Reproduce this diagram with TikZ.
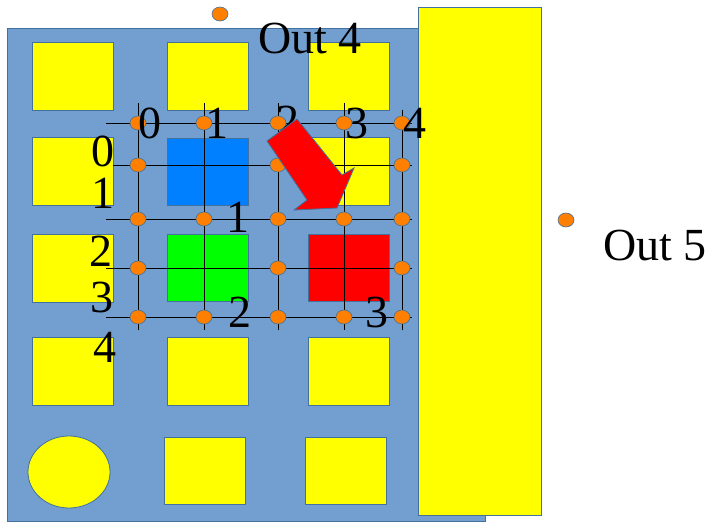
\documentclass[tikz,border=0pt]{standalone}
\usepackage{fontspec}
\setmainfont{Liberation Serif}
\usepackage{tikz}
\usetikzlibrary{shapes.geometric}
\definecolor{BoardBlue}{HTML}{729FCF}
\definecolor{EdgeBlue}{HTML}{41719C}
\definecolor{PadYellow}{HTML}{FFFF00}
\definecolor{ChipBlue}{HTML}{0080FF}
\definecolor{ChipGreen}{HTML}{00FF00}
\definecolor{ChipRed}{HTML}{FF0000}
\definecolor{PinOrange}{HTML}{FF8000}

\begin{document}
\begin{tikzpicture}[x=1pt,y=-1pt,
 every node/.style={font=\fontsize{46}{50}\selectfont,inner sep=0pt},
 pad/.style={draw=EdgeBlue,line width=0.8pt,fill=PadYellow},
 chip/.style={draw=EdgeBlue,line width=0.8pt},
 wire/.style={black,line width=0.9pt},
 pin/.style={ellipse,draw=EdgeBlue,line width=0.6pt,fill=PinOrange,minimum width=16pt,minimum height=14pt}]
\useasboundingbox (0,0) rectangle (714,522);
% board and side bar
\fill[BoardBlue,draw=EdgeBlue,line width=0.8pt] (7,28) rectangle (485,521);
\draw[pad] (418,7) rectangle (541,515);
% pads
\foreach \x in {32,167,308}
 \foreach \y in {42,337} \draw[pad] (\x,\y) rectangle ++(81,68);
\draw[pad] (32,137) rectangle ++(81,68);
\draw[pad] (308,137) rectangle ++(81,68);
\draw[pad] (32,234) rectangle ++(81,68);
\draw[pad] (69,472) ellipse (41 and 36);
\draw[pad] (164,437) rectangle ++(81,67);
\draw[pad] (305,437) rectangle ++(81,67);
% chips
\draw[chip,fill=ChipBlue] (167,138) rectangle ++(81,67);
\draw[chip,fill=ChipGreen] (167,234) rectangle ++(81,67);
\draw[chip,fill=ChipRed] (308,234) rectangle ++(81,67);
% grid
\foreach \x in {138,204,278,344} \draw[wire] (\x,103) -- (\x,330);
\draw[wire] (402,110) -- (402,330);
\foreach \y in {123,219,268,317} \draw[wire] (106,\y) -- (412,\y);
\draw[wire] (113,165) -- (412,165);
% pins
\foreach \x [count=\i from 0] in {138,204,278,344,402} {
 \node[pin] (a\i) at (\x,123) {};
 \node[pin] (c\i) at (\x,219) {};
 \node[pin] (e\i) at (\x,317) {};
}
\foreach \x [count=\i from 0] in {138,278,402} {
 \node[pin] (b\i) at (\x,165) {};
 \node[pin] (d\i) at (\x,268) {};
}
\node[pin] (out4) at (220,14) {};
\node[pin] (out5) at (566,220) {};
% labels
\node (col0) at (150,123) {0};
\node (col1) at (217,123) {1};
\node (col2) at (288,121) {2};
\node (col3) at (357,123) {3};
\node (col4) at (415,123) {4};
\node (row0) at (103,151) {0};
\node (row1) at (103,193) {1};
\node (row2) at (101,251) {2};
\node (row3) at (102,297) {3};
\node (row4) at (105,347) {4};
\node (lab1) at (238,217) {1};
\node (lab2) at (240,312) {2};
\node (lab3) at (377,312) {3};
\node (out4lab) at (310,38) {Out 4};
\node (out5lab) at (655,245) {Out 5};
% move arrow
\draw[EdgeBlue,line width=0.8pt,fill=ChipRed] (267,141) -- (297,119) -- (342,175) -- (354,168)
 -- (337,208) -- (294,210) -- (307,200) -- cycle;
\end{tikzpicture}
\end{document}
